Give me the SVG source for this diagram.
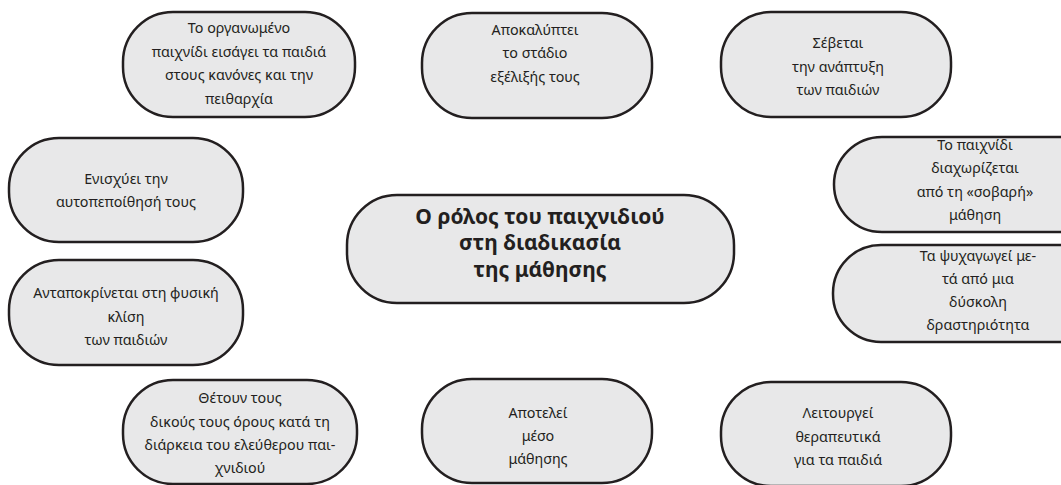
<svg xmlns="http://www.w3.org/2000/svg" width="1061" height="485" viewBox="0 0 1061 485">
<style>
.box{fill:#e8e8e9;stroke:#231f20;stroke-width:2.5}
.t{font-family:"Noto Sans","DejaVu Sans",sans-serif;font-size:14.3px;fill:#231f20;text-anchor:middle}
.c{font-family:"Noto Sans","DejaVu Sans",sans-serif;font-size:21px;font-weight:bold;fill:#231f20;text-anchor:middle}
</style>
<rect width="1061" height="485" fill="#ffffff"/>
<g id="connectors"></g>
<g id="center">
<rect class="box" x="347" y="195" width="387" height="108" rx="50" ry="50"/>
<text class="c" x="540" y="224">Ο ρόλος του παιχνιδιού</text>
<text class="c" x="540" y="250">στη διαδικασία</text>
<text class="c" x="540" y="277">της μάθησης</text>
</g>
<g id="n1">
<rect class="box" x="123" y="12" width="232" height="105" rx="50" ry="50"/>
<text class="t" x="239" y="33">Το οργανωμένο</text>
<text class="t" x="239" y="57">παιχνίδι εισάγει τα παιδιά</text>
<text class="t" x="239" y="80">στους κανόνες και την</text>
<text class="t" x="239" y="104">πειθαρχία</text>
</g>
<g id="n2">
<rect class="box" x="422" y="13" width="230" height="105" rx="50" ry="50"/>
<text class="t" x="535" y="35">Αποκαλύπτει</text>
<text class="t" x="535" y="58">το στάδιο</text>
<text class="t" x="535" y="82">εξέλιξής τους</text>
</g>
<g id="n3">
<rect class="box" x="721" y="12" width="230" height="105" rx="50" ry="50"/>
<text class="t" x="838" y="48">Σέβεται</text>
<text class="t" x="838" y="72">την ανάπτυξη</text>
<text class="t" x="838" y="95">των παιδιών</text>
</g>
<g id="n4">
<rect class="box" x="9" y="138" width="234" height="104" rx="50" ry="50"/>
<text class="t" x="126" y="184">Ενισχύει την</text>
<text class="t" x="126" y="207">αυτοπεποίθησή τους</text>
</g>
<g id="n5">
<rect class="box" x="9" y="260" width="234" height="105" rx="50" ry="50"/>
<text class="t" x="126" y="298">Ανταποκρίνεται στη φυσική</text>
<text class="t" x="126" y="322">κλίση</text>
<text class="t" x="126" y="345">των παιδιών</text>
</g>
<g id="n6">
<rect class="box" x="834" y="137" width="282" height="95" rx="48" ry="48"/>
<text class="t" x="975" y="150">Το παιχνίδι</text>
<text class="t" x="975" y="173">διαχωρίζεται</text>
<text class="t" x="975" y="197">από τη «σοβαρή»</text>
<text class="t" x="975" y="220">μάθηση</text>
</g>
<g id="n7">
<rect class="box" x="833" y="245" width="290" height="97" rx="48" ry="48"/>
<text class="t" x="978" y="261">Τα ψυχαγωγεί με-</text>
<text class="t" x="978" y="284">τά από μια</text>
<text class="t" x="978" y="307">δύσκολη</text>
<text class="t" x="978" y="330">δραστηριότητα</text>
</g>
<g id="n8">
<rect class="box" x="123" y="380" width="234" height="104" rx="50" ry="50"/>
<text class="t" x="240" y="403">Θέτουν τους</text>
<text class="t" x="240" y="427">δικούς τους όρους κατά τη</text>
<text class="t" x="240" y="450">διάρκεια του ελεύθερου παι-</text>
<text class="t" x="240" y="473">χνιδιού</text>
</g>
<g id="n9">
<rect class="box" x="422" y="379" width="230" height="104" rx="50" ry="50"/>
<text class="t" x="538" y="418">Αποτελεί</text>
<text class="t" x="538" y="441">μέσο</text>
<text class="t" x="538" y="464">μάθησης</text>
</g>
<g id="n10">
<rect class="box" x="721" y="382" width="230" height="104" rx="50" ry="50"/>
<text class="t" x="838" y="418">Λειτουργεί</text>
<text class="t" x="838" y="442">θεραπευτικά</text>
<text class="t" x="838" y="465">για τα παιδιά</text>
</g>
</svg>
